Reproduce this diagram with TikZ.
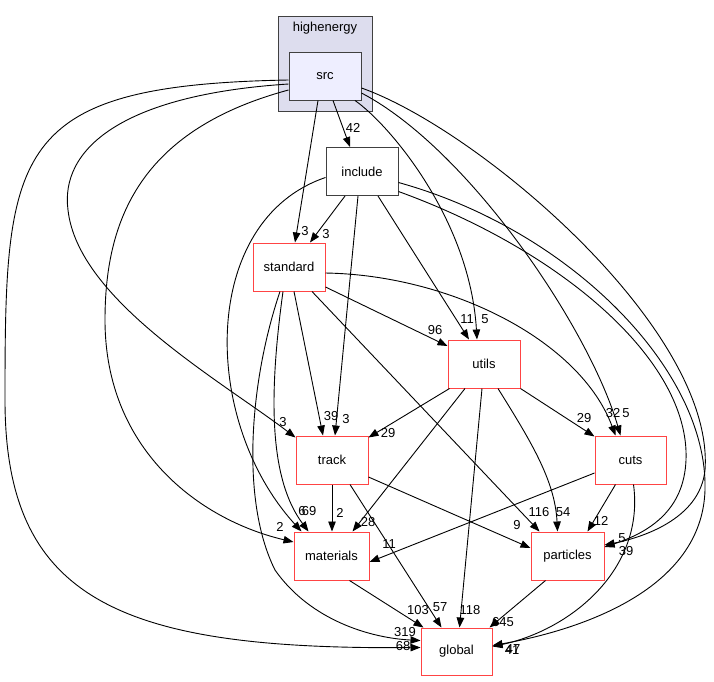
\documentclass[tikz,border=0pt]{standalone}
\usepackage{fontspec}
\setmainfont{Liberation Sans}
\usetikzlibrary{arrows.meta}
\definecolor{dirred}{HTML}{FF4444}
\definecolor{dirgray}{HTML}{404040}
\definecolor{clusterfill}{HTML}{DDDDEE}
\definecolor{srcfill}{HTML}{EEEEFF}
\tikzset{
  dirbox/.style={draw=dirred, line width=1pt, minimum width=72pt, minimum height=48pt, inner sep=0pt, font=\fontsize{13}{15}\selectfont},
  dep/.style={-{Triangle[length=10pt,width=7.5pt]}, line width=0.9pt},
  lbl/.style={inner sep=0pt, font=\fontsize{13}{15}\selectfont}
}

\begin{document}
\begin{tikzpicture}[x=1pt, y=-1pt]
  \useasboundingbox (0,0) rectangle (714,681);
  % cluster and directories
  \filldraw[fill=clusterfill, draw=dirgray, line width=1pt] (278,16) rectangle (372,111);
  \node[lbl] (highenergy) at (325,28) {highenergy};
  \node[dirbox, draw=dirgray, fill=srcfill] (src) at (325,76) {src};
  \node[dirbox, draw=dirgray] (include) at (362,171.5) {include};
  \node[dirbox] (standard) at (289,267) {standard};
  \node[dirbox] (utils) at (484,364) {utils};
  \node[dirbox] (track) at (332,460) {track};
  \node[dirbox, minimum width=71pt] (cuts) at (630.5,460) {cuts};
  \node[dirbox, minimum width=75pt] (materials) at (331.5,556) {materials};
  \node[dirbox, minimum width=73pt] (particles) at (567.5,556) {particles};
  \node[dirbox, minimum width=71pt, minimum height=47pt] (global) at (456.5,651.5) {global};

  % from src
  \draw[dep] ([xshift=8pt]src.south) -- ([xshift=-12pt]include.north) node[lbl] at (353,128) {42};
  \draw[dep] ([xshift=-7pt]src.south) -- ([xshift=6pt]standard.north) node[lbl] at (305,231) {3};
  \draw[dep] ([xshift=30pt]src.south) .. controls (390,125) and (470,220) .. ([xshift=-7pt]utils.north) node[lbl] at (485,319) {5};
  \draw[dep] ([yshift=-17pt]src.east) .. controls (470,150) and (590,330) .. ([xshift=-10pt]cuts.north) node[lbl] at (626,413) {5};
  \draw[dep] ([yshift=-12pt]src.east) .. controls (480,130) and (715,330) .. (705,470)
    .. controls (700,520) and (640,538) .. ([yshift=11pt]particles.east) node[lbl] at (622,538) {5};
  \draw[dep] ([yshift=-8pt]src.west) .. controls (120,95) and (60,150) .. (68,210)
    .. controls (78,300) and (220,380) .. ([yshift=-2pt]track.north west) node[lbl] at (283,422) {3};
  \draw[dep] ([yshift=-14pt]src.west) .. controls (140,130) and (105,220) .. (105,320)
    .. controls (105,450) and (200,520) .. ([yshift=14pt]materials.west) node[lbl] at (280,527) {2};
  \draw[dep] ([yshift=-4pt]src.west) .. controls (10,85) and (5,150) .. (5,400)
    .. controls (5,600) and (120,650) .. ([yshift=4pt]global.west) node[lbl] at (403,646) {68};

  % from include
  \draw[dep] ([xshift=-17pt]include.south) -- ([xshift=21pt]standard.north) node[lbl] at (326,234) {3};
  \draw[dep] ([xshift=-4pt]include.south) -- ([xshift=3pt]track.north) node[lbl] at (346,419) {3};
  \draw[dep] ([xshift=16pt]include.south) -- ([xshift=-15pt]utils.north) node[lbl] at (467,319) {11};
  \draw[dep] ([yshift=-6pt]include.west) .. controls (200,220) and (200,420) .. ([xshift=-30pt]materials.north) node[lbl] at (302,511) {6};
  \draw[dep] ([yshift=-20pt]include.east) .. controls (560,250) and (690,360) .. (686,460)
    .. controls (684,510) and (650,532) .. ([yshift=9pt]particles.east) node[lbl] at (626,551) {39};
  \draw[dep] ([yshift=-11pt]include.east) .. controls (570,230) and (708,370) .. (705,490)
    .. controls (702,590) and (580,630) .. ([yshift=6pt]global.east) node[lbl] at (513,649) {47};

  % from standard
  \draw[dep] ([yshift=-20pt]standard.east) -- ([yshift=18pt]utils.west) node[lbl] at (435,330) {96};
  \draw[dep] ([yshift=-6pt]standard.east) .. controls (450,275) and (580,340) .. ([xshift=-15pt]cuts.north) node[lbl] at (613,413) {32};
  \draw[dep] ([xshift=5pt]standard.south) -- ([xshift=-9pt]track.north) node[lbl] at (331,416) {39};
  \draw[dep] ([xshift=-6pt]standard.south) .. controls (268,400) and (270,480) .. ([xshift=-23pt]materials.north) node[lbl] at (309,511) {69};
  \draw[dep] ([xshift=23pt]standard.south) -- ([xshift=-28pt]particles.north) node[lbl] at (539,512) {116};
  \draw[dep] ([xshift=-9pt]standard.south) .. controls (250,380) and (240,500) .. (275,570)
    .. controls (310,620) and (370,638) .. ([yshift=11pt]global.west) node[lbl] at (405,632) {319};

  % from utils
  \draw[dep] ([xshift=2pt]utils.south west) -- ([yshift=-2pt]track.north east) node[lbl] at (388,433) {29};
  \draw[dep] (utils.south east) -- ([yshift=-1pt]cuts.north west) node[lbl] at (584,418) {29};
  \draw[dep] ([xshift=-19pt]utils.south) -- ([xshift=21pt]materials.north) node[lbl] at (368,522) {28};
  \draw[dep] ([xshift=14pt]utils.south) .. controls (530,440) and (555,480) .. ([xshift=-10pt]particles.north) node[lbl] at (563,512) {54};
  \draw[dep] ([xshift=-2pt]utils.south) -- ([xshift=3pt]global.north) node[lbl] at (470,610) {118};

  % from track and cuts
  \draw[dep] (track.south) -- ([xshift=0.5pt]materials.north) node[lbl] at (340,513) {2};
  \draw[dep] ([yshift=-17pt]track.east) -- ([yshift=8pt]particles.west) node[lbl] at (517,525) {9};
  \draw[dep] ([xshift=18pt]track.south) -- ([xshift=-15pt]global.north) node[lbl] at (440,607) {57};
  \draw[dep] ([yshift=-13pt]cuts.west) -- ([yshift=-6pt]materials.east) node[lbl] at (389,544) {11};
  \draw[dep] ([xshift=-15pt]cuts.south) -- ([xshift=20pt]particles.north) node[lbl] at (601,521) {12};
  \draw[dep] ([xshift=3pt]cuts.south) .. controls (645,570) and (570,630) .. ([yshift=5pt]global.east) node[lbl] at (512,650) {41};

  % into global
  \draw[dep] ([xshift=18pt]materials.south) -- ([xshift=-33pt]global.north) node[lbl] at (418,610) {103};
  \draw[dep] ([xshift=-22pt]particles.south) -- ([xshift=33pt]global.north) node[lbl] at (503,622) {645};
\end{tikzpicture}
\end{document}
